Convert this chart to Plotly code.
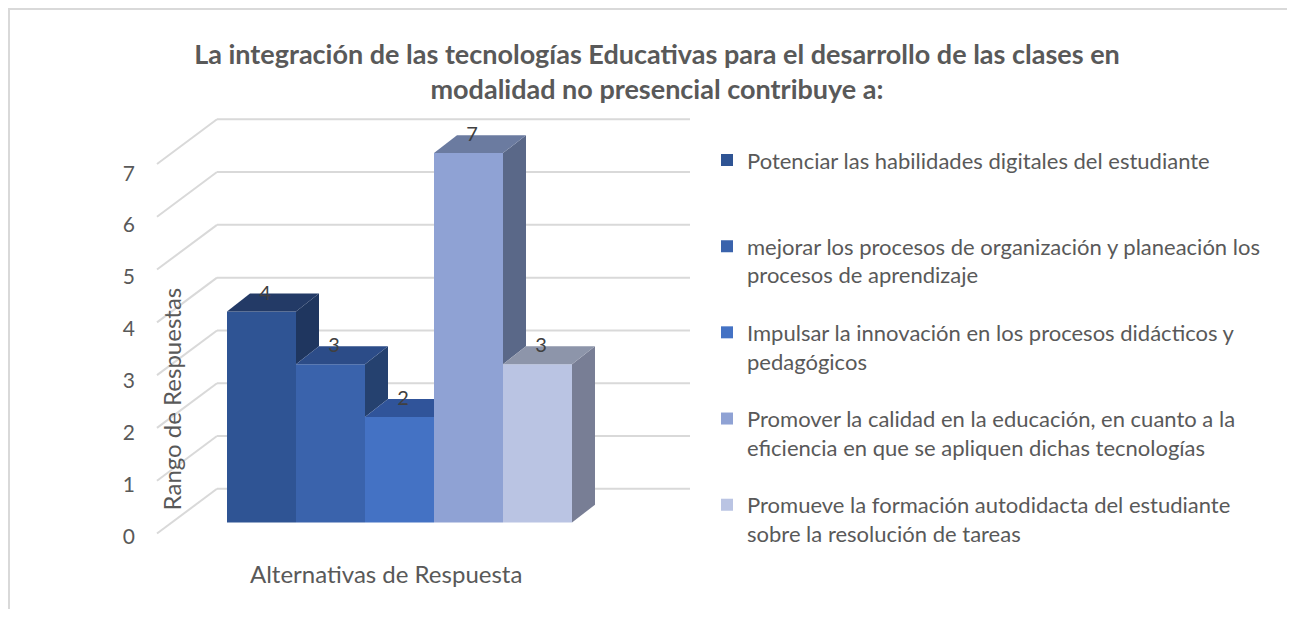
import plotly.graph_objects as go

# ---------------- data ----------------
categories = [
    "Potenciar las habilidades digitales del estudiante<br> ",
    "mejorar los procesos de organización y planeación los<br>procesos de aprendizaje",
    "Impulsar la innovación en los procesos didácticos y<br>pedagógicos",
    "Promover la calidad en la educación, en cuanto a la<br>eficiencia en que se apliquen dichas tecnologías",
    "Promueve la formación autodidacta del estudiante<br>sobre la resolución de tareas",
]
values = [4, 3, 2, 7, 3]
y_ticks = [0, 1, 2, 3, 4, 5, 6, 7]

title_text = ("<b>La integración de las tecnologías Educativas para el desarrollo de las clases en<br>"
              "modalidad no presencial contribuye a:</b>")
y_title = "Rango de Respuestas"
x_title = "Alternativas de Respuesta"

# ---------------- styles ----------------
front_colors = ["#2F5494", "#3A63AC", "#4472C4", "#8FA2D4", "#BAC4E3"]
top_colors = ["#233A66", "#2C4C88", "#30549A", "#6B7BA0", "#8D95AA"]
side_colors = ["#1F365F", "#25416F", "#2A4A85", "#5A6888", "#787E95"]
grid_color = "#D9D9D9"
text_color = "#595959"
FONT = "Lato, 'Open Sans', sans-serif"

OFF = 8                      # page body margin (all sides)
W, H = 1295 - 2 * OFF, 621 - 2 * OFF


def xp(px):
    return (px - OFF) / W


def yp(py):
    return 1 - (py - OFF) / H


# pixel geometry of the plotting frame (reference pixels)
PX_UNIT = 69.0      # px per category
PY_UNIT = 53.14     # px per value unit
X0_PX = 261.5       # pixel of first category centre
Y0_PX = 537.0       # pixel of value 0 on front of wall
BASE = 11.0 / PY_UNIT     # bar front bottom offset
DX = 23.0 / PX_UNIT       # bar depth (x)
DY = 18.0 / PY_UNIT       # bar depth (y)
WALL_X0 = (157 - X0_PX) / PX_UNIT
WALL_DX = 60.0 / PX_UNIT
WALL_DY = 45.0 / PY_UNIT
WALL_XR = (690 - X0_PX) / PX_UNIT
# axis labels sit slightly off the wall lines (3D projection)
TICK_SCALE = 0.9836
TICK_SHIFT = -0.06

XL_PX, XR_PX = 150, 700
x_range = [(XL_PX - X0_PX) / PX_UNIT, (XR_PX - X0_PX) / PX_UNIT]
y_range = [-0.2, 7.95]
y_bot_px = Y0_PX - y_range[0] * PY_UNIT
y_top_px = Y0_PX - y_range[1] * PY_UNIT

fig = go.Figure()

n = len(values)
xs = list(range(n))

# front faces (bars, with legend)
for i, (name, v) in enumerate(zip(categories, values)):
    fig.add_trace(go.Bar(
        x=[xs[i]], y=[v], base=[BASE], width=1.0, name=name,
        marker=dict(color=front_colors[i], line=dict(width=0)),
        legendgroup=f"g{i}", hoverinfo="skip",
    ))

# side and top faces
for i, v in enumerate(values):
    nxt = values[i + 1] if i + 1 < n else 0
    t = BASE + v
    xr = xs[i] + 0.5
    xl = xs[i] - 0.5
    if nxt >= v and i + 1 < n:
        tx = [xl, xr, xr, xl + DX, xl]
    else:
        tx = [xl, xr, xr + DX, xl + DX, xl]
    ty = [t, t, t + DY, t + DY, t]
    if v > nxt:
        lo = BASE + nxt
        fig.add_trace(go.Scatter(
            x=[xr, xr, xr + DX, xr + DX, xr], y=[lo, t, t + DY, lo + DY, lo],
            fill="toself", fillcolor=side_colors[i], mode="lines",
            line=dict(width=0, color=side_colors[i]), showlegend=False, hoverinfo="skip"))
    fig.add_trace(go.Scatter(
        x=tx, y=ty, fill="toself", fillcolor=top_colors[i], mode="lines",
        line=dict(width=0, color=top_colors[i]), showlegend=False, hoverinfo="skip"))

# data labels
fig.add_trace(go.Scatter(
    x=[xi + 0.05 for xi in xs], y=[BASE + v + DY - 0.02 for v in values],
    text=[str(v) for v in values], mode="text", textposition="middle center",
    textfont=dict(family=FONT, size=20, color="#404040"),
    showlegend=False, hoverinfo="skip", cliponaxis=False))

# gridlines (walls) as shapes below traces
shapes = []
for v in y_ticks:
    shapes.append(dict(type="line", xref="x", yref="y", layer="below",
                       x0=WALL_X0, y0=v, x1=WALL_X0 + WALL_DX, y1=v + WALL_DY,
                       line=dict(color=grid_color, width=2)))
    shapes.append(dict(type="line", xref="x", yref="y", layer="below",
                       x0=WALL_X0 + WALL_DX, y0=v + WALL_DY, x1=WALL_XR, y1=v + WALL_DY,
                       line=dict(color=grid_color, width=2)))
# outer chart border (top and left edges visible)
shapes.append(dict(type="line", xref="paper", yref="paper",
                   x0=0, y0=1 - 1 / H, x1=1, y1=1 - 1 / H,
                   line=dict(color="#D9D9D9", width=2), layer="below"))
shapes.append(dict(type="line", xref="paper", yref="paper",
                   x0=1 / W, y0=0, x1=1 / W, y1=1,
                   line=dict(color="#D9D9D9", width=2), layer="below"))

fig.update_layout(
    width=W, height=H,
    margin=dict(l=0, r=0, t=0, b=0),
    paper_bgcolor="white", plot_bgcolor="rgba(0,0,0,0)",
    barmode="overlay",
    font=dict(family=FONT, color=text_color),
    title=dict(text=title_text, x=xp(657), xanchor="center", y=yp(64), yanchor="middle",
               font=dict(family=FONT, size=27, color=text_color)),
    xaxis=dict(range=x_range, domain=[xp(XL_PX), xp(XR_PX)], showgrid=False, zeroline=False,
               showticklabels=False, showline=False, fixedrange=True),
    yaxis=dict(range=y_range, domain=[yp(y_bot_px), yp(y_top_px)],
               tickvals=[TICK_SHIFT + TICK_SCALE * t for t in y_ticks],
               ticktext=[str(t) for t in y_ticks],
               showgrid=False, zeroline=False, showline=False,
               ticklabelstandoff=14,
               tickfont=dict(family=FONT, size=21, color=text_color)),
    legend=dict(x=xp(707), y=yp(140), xanchor="left", yanchor="top",
                font=dict(family=FONT, size=22, color=text_color),
                tracegroupgap=26, valign="top", bgcolor="rgba(0,0,0,0)",
                itemclick=False, itemdoubleclick=False),
    shapes=shapes,
    annotations=[
        dict(text=y_title, x=xp(171), y=yp(402), xref="paper", yref="paper",
             textangle=-90, showarrow=False, xanchor="center", yanchor="middle",
             font=dict(family=FONT, size=24, color=text_color)),
        dict(text=x_title, x=xp(386), y=yp(577), xref="paper", yref="paper",
             showarrow=False, xanchor="center", yanchor="middle",
             font=dict(family=FONT, size=24, color=text_color)),
    ],
)

fig.write_html("out.html")
